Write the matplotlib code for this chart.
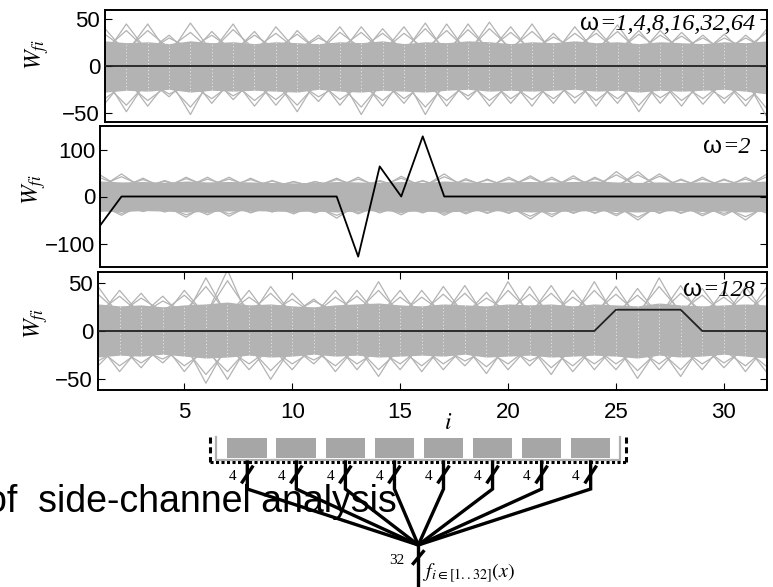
import matplotlib
matplotlib.use("Agg")
import matplotlib.pyplot as plt
from matplotlib.patches import Rectangle

plt.rcParams['font.family'] = ['Liberation Sans', 'DejaVu Sans']
plt.rcParams['mathtext.fontset'] = 'stix'

# ---------------- data ----------------
i_vals = list(range(1, 33))
x_ticks = [5, 10, 15, 20, 25, 30]

# panel 1 : omega = 1,4,8,16,32,64
p1_label = "=1,4,8,16,32,64"
p1_key = [0, 0, 0, 0, 0, 0, 0, 0, 0, 0, 0, 0, 0, 0, 0, 0,
          0, 0, 0, 0, 0, 0, 0, 0, 0, 0, 0, 0, 0, 0, 0, 0]
p1_band_hi = [27, 25, 26, 24, 27, 25, 26, 24, 26, 25, 24, 26, 25, 27, 24, 26,
              25, 27, 26, 24, 26, 25, 27, 25, 26, 24, 26, 25, 24, 26, 25, 27]
p1_band_lo = [-28, -26, -27, -25, -28, -26, -27, -26, -27, -28, -25, -27, -28, -26, -27, -28,
              -26, -25, -27, -26, -27, -26, -25, -27, -26, -28, -26, -27, -26, -25, -27, -30]
p1_lines = [
    [40, 14, 45, 12, 46, 15, 45, 10, 42, 16, 33, 12, 42, 14, 42, 11,
     45, 13, 47, 15, 45, 12, 42, 14, 44, 12, 38, 15, 33, 13, 33, 15],
    [12, 45, 15, 33, 12, 37, 14, 37, 10, 38, 15, 42, 12, 40, 14, 46,
     12, 45, 15, 42, 13, 35, 12, 40, 15, 38, 12, 36, 14, 34, 12, 40],
    [34, 17, 38, 19, 36, 16, 39, 18, 35, 17, 30, 19, 36, 16, 35, 18,
     38, 16, 40, 19, 37, 17, 35, 18, 37, 16, 33, 19, 30, 17, 30, 18],
    [18, 38, 16, 30, 19, 33, 17, 33, 18, 34, 16, 36, 19, 35, 17, 40,
     16, 39, 18, 36, 17, 31, 19, 35, 16, 34, 18, 32, 17, 30, 19, 36],
    [-40, -12, -43, -14, -52, -10, -36, -13, -42, -15, -38, -11, -52, -14, -40, -12,
     -43, -13, -43, -15, -43, -12, -40, -14, -40, -11, -40, -13, -41, -15, -43, -12],
    [-12, -49, -14, -33, -11, -40, -13, -43, -15, -49, -12, -42, -14, -43, -10, -52,
     -13, -36, -12, -40, -14, -40, -11, -43, -13, -49, -15, -43, -12, -40, -14, -55],
    [-35, -18, -37, -20, -44, -17, -32, -19, -36, -18, -33, -20, -44, -17, -35, -19,
     -37, -18, -37, -20, -36, -17, -34, -19, -35, -18, -34, -20, -35, -17, -37, -19],
    [-19, -42, -17, -30, -20, -35, -18, -37, -19, -42, -17, -36, -20, -37, -18, -44,
     -19, -32, -17, -35, -20, -35, -18, -37, -19, -42, -17, -37, -20, -35, -18, -46],
]

# panel 2 : omega = 2
p2_label = "=2"
p2_key = [-62, 0, 0, 0, 0, 0, 0, 0, 0, 0, 0, 0, -128, 64, 0, 128,
          0, 0, 0, 0, 0, 0, 0, 0, 0, 0, 0, 0, 0, 0, 0, 0]
p2_band_hi = [33, 31, 32, 30, 33, 31, 32, 31, 30, 29, 30, 32, 31, 30, 32, 30,
              33, 31, 30, 31, 32, 31, 32, 33, 31, 30, 31, 30, 31, 30, 31, 33]
p2_band_lo = [-31, -32, -30, -31, -33, -32, -31, -30, -31, -32, -31, -33, -31, -30, -32, -31,
              -33, -31, -30, -31, -33, -32, -31, -30, -32, -33, -31, -30, -32, -31, -33, -31]
p2_lines = [
    [46, 18, 39, 16, 41, 20, 41, 17, 34, 19, 32, 18, 41, 16, 43, 20,
     48, 17, 37, 19, 44, 18, 44, 16, 53, 20, 48, 18, 41, 17, 41, 19],
    [18, 48, 17, 34, 19, 41, 16, 39, 18, 32, 20, 39, 17, 34, 19, 34,
     16, 38, 20, 41, 18, 41, 17, 41, 19, 53, 16, 37, 18, 37, 20, 48],
    [40, 22, 36, 21, 38, 23, 37, 22, 33, 21, 31, 23, 37, 22, 39, 21,
     42, 23, 35, 22, 40, 21, 39, 23, 46, 22, 43, 21, 37, 23, 37, 22],
    [23, 42, 22, 32, 21, 37, 23, 36, 22, 31, 21, 36, 23, 32, 22, 33,
     21, 35, 23, 37, 22, 37, 21, 38, 23, 46, 22, 35, 21, 35, 23, 42],
    [-32, -17, -32, -19, -44, -16, -42, -18, -33, -20, -35, -17, -37, -19, -39, -16,
     -40, -18, -36, -20, -48, -17, -36, -19, -41, -16, -36, -18, -41, -20, -50, -17],
    [-18, -40, -16, -33, -19, -39, -17, -35, -20, -37, -18, -46, -16, -35, -19, -35,
     -17, -37, -20, -36, -18, -43, -16, -36, -19, -50, -17, -36, -20, -40, -18, -36],
    [-30, -22, -31, -21, -39, -23, -37, -22, -32, -21, -33, -23, -34, -22, -35, -21,
     -36, -23, -34, -22, -42, -21, -34, -23, -37, -22, -34, -21, -37, -23, -43, -22],
    [-22, -36, -21, -31, -23, -35, -22, -33, -21, -34, -23, -40, -22, -33, -21, -33,
     -23, -34, -22, -34, -21, -38, -23, -34, -22, -44, -21, -34, -23, -36, -22, -34],
]

# panel 3 : omega = 128
p3_label = "=128"
p3_key = [0, 0, 0, 0, 0, 0, 0, 0, 0, 0, 0, 0, 0, 0, 0, 0,
          0, 0, 0, 0, 0, 0, 0, 0, 22, 22, 22, 22, 0, 0, 0, 0]
p3_band_hi = [28, 26, 27, 25, 27, 28, 30, 27, 28, 26, 25, 27, 28, 29, 27, 26,
              28, 27, 26, 28, 27, 28, 26, 28, 27, 26, 29, 27, 26, 27, 28, 27]
p3_band_lo = [-27, -25, -26, -24, -26, -28, -27, -25, -27, -26, -24, -26, -25, -27, -26, -25,
              -26, -24, -27, -26, -25, -27, -26, -25, -26, -28, -25, -27, -26, -24, -26, -28]
p3_lines = [
    [46, 15, 39, 13, 42, 16, 63, 12, 46, 17, 33, 14, 42, 15, 42, 13,
     46, 16, 40, 14, 46, 12, 42, 15, 46, 13, 55, 16, 44, 14, 46, 15],
    [14, 42, 16, 36, 13, 55, 15, 42, 12, 39, 16, 42, 14, 51, 13, 42,
     15, 47, 12, 51, 16, 47, 14, 51, 13, 44, 15, 47, 12, 42, 14, 46],
    [38, 18, 34, 20, 37, 17, 52, 19, 39, 18, 31, 20, 36, 17, 35, 19,
     38, 18, 34, 20, 38, 17, 35, 19, 38, 18, 46, 20, 37, 17, 38, 18],
    [19, 36, 17, 31, 20, 46, 18, 35, 19, 33, 17, 35, 20, 42, 18, 35,
     19, 39, 17, 42, 20, 39, 18, 42, 19, 37, 17, 39, 20, 35, 18, 38],
    [-36, -14, -38, -12, -42, -15, -50, -13, -50, -16, -34, -12, -40, -14, -40, -13,
     -40, -15, -44, -12, -36, -14, -42, -16, -40, -13, -40, -15, -40, -12, -42, -14],
    [-13, -42, -15, -33, -12, -54, -14, -40, -16, -40, -13, -42, -15, -47, -12, -42,
     -14, -36, -13, -40, -15, -45, -12, -40, -14, -49, -16, -47, -13, -38, -15, -43],
    [-31, -19, -33, -18, -36, -20, -42, -17, -41, -19, -30, -18, -34, -20, -34, -17,
     -34, -19, -37, -18, -31, -20, -36, -17, -34, -19, -34, -18, -34, -20, -36, -17],
    [-18, -36, -20, -29, -17, -45, -19, -34, -18, -34, -20, -36, -17, -40, -19, -36,
     -18, -31, -20, -34, -17, -38, -19, -34, -18, -41, -20, -40, -17, -33, -19, -37],
]

# ---------------- figure ----------------
W, H, DPI = 773, 587, 100
GREY = '#b3b3b3'
fig = plt.figure(figsize=(W / DPI, H / DPI), dpi=DPI)


def box(l, t, r, b):
    return [l / W, 1 - b / H, (r - l) / W, (b - t) / H]


panels = [
    dict(rect=box(105, 10, 767, 122), ylim=(-60, 60), yticks=[-50, 0, 50],
         hi=p1_band_hi, lo=p1_band_lo, lines=p1_lines, key=p1_key, label=p1_label,
         dots=True, keycol='#222222', lab_xy=(755, 30), ylab_xy=(37, 55)),
    dict(rect=box(100, 126, 767, 267), ylim=(-150, 150), yticks=[-100, 0, 100],
         hi=p2_band_hi, lo=p2_band_lo, lines=p2_lines, key=p2_key, label=p2_label,
         dots=False, keycol='black', lab_xy=(751, 153), ylab_xy=(34, 190)),
    dict(rect=box(98, 272, 767, 390), ylim=(-61, 61), yticks=[-50, 0, 50],
         hi=p3_band_hi, lo=p3_band_lo, lines=p3_lines, key=p3_key, label=p3_label,
         dots=True, keycol='#222222', lab_xy=(755, 296), ylab_xy=(36, 324)),
]

ov = fig.add_axes([0, 0, 1, 1], zorder=10)
ov.set_xlim(0, W)
ov.set_ylim(H, 0)
ov.axis('off')
ov.patch.set_visible(False)

for k, p in enumerate(panels):
    ax = fig.add_axes(p['rect'])
    ax.fill_between(i_vals, p['lo'], p['hi'], color=GREY, lw=0, zorder=1)
    for s in p['lines']:
        ax.plot(i_vals, s, color=GREY, lw=0.9, zorder=2)
    if p['dots']:
        ax.vlines(i_vals[1:-1], p['lo'][1:-1], p['hi'][1:-1], colors='white',
                  linestyles=(0, (1, 2.5)), lw=0.7, alpha=0.75, zorder=3)
    ax.plot(i_vals, p['key'], color=p['keycol'], lw=1.3, zorder=4)
    ax.set_xlim(1, 32)
    ax.set_ylim(*p['ylim'])
    ax.set_yticks(p['yticks'])
    ax.tick_params(axis='y', direction='in', left=True, right=True, length=5,
                   width=0.8, labelsize=16, pad=3.5, colors='black')
    if k == 2:
        ax.set_xticks(x_ticks)
        ax.tick_params(axis='x', direction='in', top=True, bottom=True, length=5,
                       width=0.8, labelsize=16, pad=9)
    else:
        ax.set_xticks([])
    for sp in ax.spines.values():
        sp.set_linewidth(1.4)
        sp.set_color('black')
    lx, ly = p['lab_xy']
    t = ov.text(lx, ly, p['label'], family='Liberation Serif', style='italic',
                fontsize=17.5, ha='right', va='baseline')
    ov.annotate('\u03c9', xy=(0, 0), xycoords=t, ha='right', va='bottom',
                fontsize=17.5, family='Liberation Sans', annotation_clip=False)
    yx, yy = p['ylab_xy']
    ov.text(yx, yy, r'$W_{fi}$', fontsize=17, rotation=90, ha='center', va='center')

ov.text(448, 423, r'$i$', fontsize=17, ha='center', va='center')

# ---------------- bottom diagram ----------------
ov.text(397, 512, 'of  side-channel analysis', fontsize=27, ha='right',
        va='baseline', family='Liberation Sans', zorder=1)

# light grey frame and register blocks
ov.plot([216, 216, 620, 620], [437, 459.5, 459.5, 437], color='#b0b0b0', lw=1.6,
        solid_joinstyle='miter', zorder=2)
for k in range(8):
    ov.add_patch(Rectangle((227.3 + 49.1 * k, 438), 39.4, 20,
                           facecolor='#a6a6a6', edgecolor='none', zorder=2))
# dashed black border
ov.plot([210, 210], [437, 462], color='black', lw=2.2, ls=(0, (2, 1.2)), zorder=3)
ov.plot([626, 626], [437, 462], color='black', lw=2.2, ls=(0, (2, 1.2)), zorder=3)
ov.plot([210, 626], [462, 462], color='black', lw=2.2, ls=(0, (1, 0.8)), zorder=3)

# wires
cx, cy = 418.3, 545
for k in range(8):
    xw = 247.3 + 49.05 * k
    yb = 489
    ov.plot([xw, xw, cx], [462, yb, cy], color='black', lw=2.4,
            solid_joinstyle='miter', zorder=4)
    ov.plot([xw - 5, xw + 5], [482, 467], color='black', lw=2.4, zorder=4)
    ov.text(xw - 15, 477, '4', family='Liberation Serif', fontsize=11,
            ha='center', va='center', zorder=4)
ov.plot([cx, cx], [cy, 600], color='black', lw=2.4, zorder=4, clip_on=False)
ov.plot([cx - 5, cx + 5], [563.5, 551.5], color='black', lw=2.4, zorder=4)
ov.text(397, 560, '32', family='Liberation Serif', fontsize=11,
        ha='center', va='center', zorder=4)
ov.text(423, 573, r'$f_{i\in[1..32]}(x)$', fontsize=14.5, ha='left',
        va='center', zorder=4)

fig.savefig('out.png', dpi=DPI)
